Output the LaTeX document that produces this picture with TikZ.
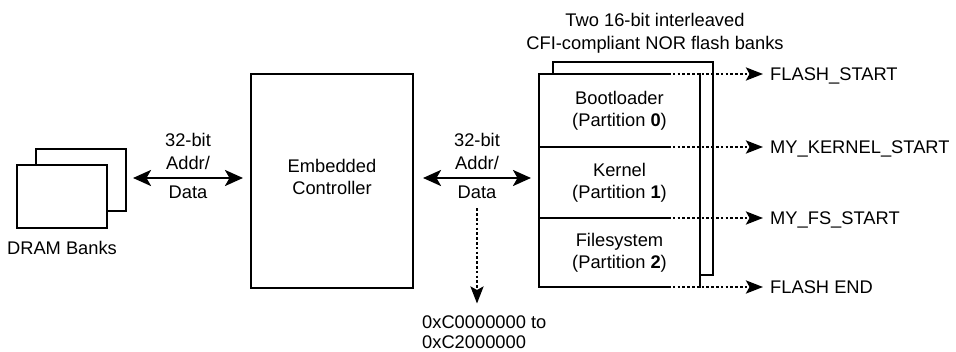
\documentclass[tikz,border=0pt]{standalone}
\usepackage{fontspec}
\setmainfont{Liberation Sans}
\usetikzlibrary{arrows.meta,calc}
\begin{document}
\begin{tikzpicture}[x=1pt,y=-1pt,
  box/.style={draw, line width=2.6pt, fill=white, inner sep=0pt, outer sep=0pt,
    font=\fontsize{18.3}{22}\selectfont, align=center},
  lbl/.style={font=\fontsize{18.3}{22}\selectfont, inner sep=0pt},
  bus/.style={line width=2.6pt,
    {Stealth[length=18pt,width=16pt,inset=4.5pt]}-{Stealth[length=18pt,width=16pt,inset=4.5pt]}},
  ptr/.style={line width=2.6pt, dash pattern=on 2.6pt off 2.2pt,
    -{Stealth[length=17pt,width=13pt,inset=3.5pt]}},
]
\useasboundingbox (0,0) rectangle (956,352);

% DRAM banks (two stacked boards)
\node[box, minimum width=90pt, minimum height=62pt] (dramback) at (81,180) {};
\node[box, minimum width=90pt, minimum height=63pt] (dram) at (62,196.5) {};
\node[lbl, anchor=base] (dramlbl) at (62,254.5) {DRAM Banks};

% Embedded controller
\node[box, minimum width=162pt, minimum height=214pt] (ctrl) at (332,181) {};
\node[lbl, align=center] (ctrltxt) at (332,177) {Embedded\\Controller};

% NOR flash: rear bank and front bank split into partitions
\node[box, minimum width=160pt, minimum height=213pt] (flashback) at (633,168.5) {};
\node[box, minimum width=161pt, minimum height=73pt] (boot) at (619.5,110.5)
  {Bootloader\\(Partition \textbf{0})};
\node[box, minimum width=161pt, minimum height=71pt] (kern) at (619.5,182.5)
  {Kernel\\(Partition \textbf{1})};
\node[box, minimum width=161pt, minimum height=69pt] (fs) at (619.5,252.5)
  {Filesystem\\(Partition \textbf{2})};

\node[lbl, anchor=base] (title1) at (655,26.5) {Two 16-bit interleaved};
\node[lbl, anchor=base] (title2) at (655,49.5) {CFI-compliant NOR flash banks};

% Address/data buses
\coordinate (busy) at (0,178);
\draw[bus, shorten <=7pt, shorten >=8pt] (dramback.east |- busy) -- (ctrl.west |- busy);
\draw[bus, shorten <=10pt, shorten >=8pt] (ctrl.east |- busy) -- (boot.west |- busy);

\node[lbl, anchor=base] (lbit)  at (188,146.5) {32-bit};
\node[lbl, anchor=base] (laddr) at (188,169.5) {Addr/};
\node[lbl, anchor=base] (ldata) at (188,198.5) {Data};
\node[lbl, anchor=base] (mbit)  at (477,146.5) {32-bit};
\node[lbl, anchor=base] (maddr) at (477,169.5) {Addr/};
\node[lbl, anchor=base] (mdata) at (477,198.5) {Data};

% Physical address window
\node[lbl, anchor=base west] (hexa) at (422,328.5) {0xC0000000 to};
\node[lbl, anchor=base west] (hexb) at (422,349) {0xC2000000};
\draw[ptr, shorten <=9.5pt, shorten >=12pt] (mdata.south) -- (hexa.north -| mdata.south);

% Partition boundary markers
\coordinate (pa) at ($(boot.north east)+(-32,0)$);
\coordinate (pb) at ($(boot.south east)+(-32,0)$);
\coordinate (pc) at ($(kern.south east)+(-32,0)$);
\coordinate (pd) at ($(fs.south east)+(-32,0)$);

\node[lbl, anchor=base west] (ma) at (770,80.5)  {FLASH\_START};
\node[lbl, anchor=base west] (mb) at (770,153.5) {MY\_KERNEL\_START};
\node[lbl, anchor=base west] (mc) at (770,224.5) {MY\_FS\_START};
\node[lbl, anchor=base west] (md) at (770,293.5) {FLASH END};

\foreach \p/\e in {pa/boot.north east, pb/boot.south east, pc/kern.south east, pd/fs.south east}
  \draw[white, line width=3.2pt, shorten >=1.3pt] (\p) -- (\e);

\draw[ptr, shorten >=7pt] (pa) -- (pa -| ma.west);
\draw[ptr, shorten >=7pt] (pb) -- (pb -| mb.west);
\draw[ptr, shorten >=7pt] (pc) -- (pc -| mc.west);
\draw[ptr, shorten >=7pt] (pd) -- (pd -| md.west);
\end{tikzpicture}
\end{document}
